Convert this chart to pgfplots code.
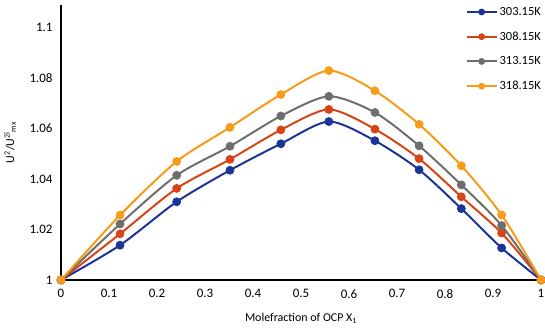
\documentclass[border=0pt]{standalone}
\usepackage{fontspec}
\setmainfont{Carlito}
\usepackage{pgfplots}
\pgfplotsset{compat=1.18}
\usetikzlibrary{calc}
\definecolor{cblue}{RGB}{28,52,150}
\definecolor{cred}{RGB}{214,68,24}
\definecolor{cgray}{RGB}{110,110,110}
\definecolor{corange}{RGB}{247,155,24}
\begin{document}
\begin{tikzpicture}
\begin{axis}[
  name=ax,
  scale only axis,
  width=480bp, height=275bp,
  xmin=0, xmax=1, ymin=1, ymax=1.109,
  axis x line*=bottom, axis y line*=left,
  axis line style={-, line width=1.8pt, black},
  xtick={0,0.1,...,1.01},
  ytick={1,1.02,1.04,1.06,1.08,1.1},
  major tick length=0pt,
  tick label style={font=\fontsize{13}{15}\selectfont},
  /pgf/number format/assume math mode=true,
  xticklabel style={yshift=-6pt},
  yticklabel style={xshift=-5pt},
  xlabel={Molefraction of OCP X\textsubscript{1}},
  ylabel={U\textsuperscript{2}/U\textsuperscript{2i}\textsubscript{mx}},
  label style={font=\fontsize{12}{14}\selectfont},
  xlabel style={at={(rel axis cs:0.5,0)}, anchor=center, yshift=-38bp},
  ylabel style={at={(rel axis cs:0,0.5)}, anchor=center, yshift=51bp},
  clip=false,
  legend style={draw=none, fill=none, at={(rel axis cs:1,1)}, anchor=north east,
    xshift=5bp, yshift=2bp,
    font=\fontsize{12.5}{14}\selectfont, row sep=11pt},
  legend cell align=left,
  legend image code/.code={\draw[mark repeat=2,mark phase=2,sharp plot,#1,mark size=3pt] plot coordinates {(0cm,0cm) (0.53cm,0cm) (1.06cm,0cm)};},
  every axis plot/.append style={line width=2pt, smooth, tension=0.45, mark=*, mark size=4pt},
]
\addplot[color=cblue, mark options={fill=cblue, line width=0.8pt}] coordinates {
(0,1) (0.123,1.0138) (0.241,1.031) (0.352,1.0435) (0.458,1.054) (0.558,1.0628) (0.654,1.0552) (0.746,1.0437) (0.834,1.0283) (0.918,1.0127) (1,1)};
\addplot[color=cred, mark options={fill=cred, line width=0.8pt}] coordinates {
(0,1) (0.123,1.0183) (0.241,1.0363) (0.352,1.0478) (0.458,1.0595) (0.558,1.0676) (0.654,1.0598) (0.746,1.0481) (0.834,1.0330) (0.918,1.0186) (1,1)};
\addplot[color=cgray, mark options={fill=cgray, line width=0.8pt}] coordinates {
(0,1) (0.123,1.0222) (0.241,1.0415) (0.352,1.0530) (0.458,1.0650) (0.558,1.0728) (0.654,1.0664) (0.746,1.0532) (0.834,1.0377) (0.918,1.0216) (1,1)};
\addplot[color=corange, mark options={fill=corange, line width=0.8pt}] coordinates {
(0,1) (0.123,1.0257) (0.241,1.0470) (0.352,1.0605) (0.458,1.0735) (0.558,1.0830) (0.654,1.0750) (0.746,1.0617) (0.834,1.0453) (0.918,1.0258) (1,1)};
\legend{303.15K,308.15K,313.15K,318.15K}
\end{axis}
\pgfresetboundingbox
\useasboundingbox ($(ax.south west)+(-61bp,-50bp)$) rectangle ($(ax.north east)+(4bp,5bp)$);
\end{tikzpicture}
\end{document}
